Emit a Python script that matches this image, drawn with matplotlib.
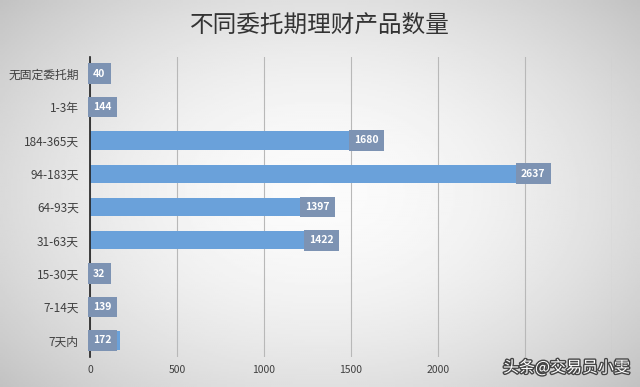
import numpy as np
import matplotlib
matplotlib.use("Agg")
import matplotlib.pyplot as plt
import matplotlib.patheffects as pe

plt.rcParams['font.family'] = ['Noto Sans CJK SC', 'DejaVu Sans']

categories = ["无固定委托期", "1-3年", "184-365天", "94-183天", "64-93天", "31-63天", "15-30天", "7-14天", "7天内"]
values = [40, 144, 1680, 2637, 1397, 1422, 32, 139, 172]
xticks = [0, 500, 1000, 1500, 2000, 2500, 3000]
xticklabels = ["0", "500", "1000", "1500", "2000", "", ""]  # 2500/3000 hidden under watermark
title = "不同委托期理财产品数量"
watermark = "头条@交易员小雯"

fig = plt.figure(figsize=(6.4, 3.87), dpi=100)

# gradient background
bg = fig.add_axes([0, 0, 1, 1])
yy, xx = np.mgrid[-1:1:200j, -1:1:320j]
r = np.sqrt((xx * 0.9) ** 2 + (yy * 0.8) ** 2)
shade = 0.985 - 0.16 * np.clip(r, 0, 1.3) ** 1.8
bg.imshow(shade, cmap='gray', vmin=0, vmax=1, aspect='auto', extent=[0, 1, 0, 1])
bg.axis('off')

ax = fig.add_axes([90 / 640, 1 - 357 / 387, (612 - 90) / 640, 300 / 387])
ax.set_facecolor('none')
y = np.arange(len(categories))
ax.barh(y, values, height=0.55, color='#6aa1da', zorder=2)
ax.set_xlim(0, 3000)
ax.set_ylim(len(categories) - 0.5, -0.5)
ax.set_yticks(y)
ax.set_yticklabels(categories, fontsize=8.5, color='#404040')
ax.set_xticks(xticks)
ax.set_xticklabels(xticklabels, fontsize=7.5, color='#404040')
ax.tick_params(length=0, pad=6)
ax.tick_params(axis='y', pad=8)
ax.grid(axis='x', color='#b8b8b8', linewidth=0.8, zorder=0)
for s in ['top', 'right', 'bottom']:
    ax.spines[s].set_visible(False)
ax.spines['left'].set_color('#202020')
ax.spines['left'].set_linewidth(1.2)
ax.spines['left'].set_zorder(3)

box = dict(boxstyle='square,pad=0.5', fc='#7d93b3', ec='none')
for yi, v in zip(y, values):
    if v < 200:
        ax.text(18, yi, str(v), ha='left', va='center', fontsize=7.5, color='white',
                fontweight='bold', zorder=4, bbox=box)
    else:
        ax.text(v - 20, yi, str(v), ha='right', va='center', fontsize=7.5, color='white',
                fontweight='bold', zorder=4, bbox=box)

fig.text(0.5, 1 - 25 / 387, title, ha='center', va='center', fontsize=17, color='#333333')

fig.text(1 - 10 / 640, 1 - 368 / 387, watermark, ha='right', va='center', fontsize=11.5,
         color='white', zorder=10,
         path_effects=[pe.withStroke(linewidth=2, foreground='#444444')])

fig.savefig('out.png', dpi=100)
